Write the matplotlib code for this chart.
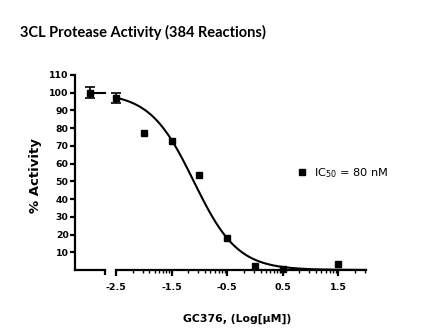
import numpy as np
import matplotlib
matplotlib.use('Agg')
import matplotlib.pyplot as plt

plt.rcParams['font.family'] = ['DejaVu Sans']
plt.rcParams['mathtext.fontset'] = 'dejavusans'
plt.rcParams['mathtext.default'] = 'regular'

# data
ctrl_activity = 100.0
ctrl_err = 3.0
log_conc = [-2.5, -2.0, -1.5, -1.0, -0.5, 0.0, 0.5, 1.5]
activity = [96.8, 77.3, 72.5, 53.5, 17.8, 2.0, 0.5, 3.5]
act_err = [2.8, 0, 0, 0, 0, 0, 0, 0]

# sigmoidal fit parameters
fit_top = 100.0
fit_bottom = 0.0
fit_logic50 = -1.1
fit_hill = 1.1

major_ticks = [-2.5, -1.5, -0.5, 0.5, 1.5]
y_ticks = [10, 20, 30, 40, 50, 60, 70, 80, 90, 100, 110]

fig = plt.figure(figsize=(4.29, 3.33), dpi=100)
H = 333.0
W = 429.0
bottom = 1 - 270 / H
height = (270 - 75) / H
ax_l = fig.add_axes([75 / W, bottom, 30 / W, height])
ax_r = fig.add_axes([116 / W, bottom, 250 / W, height])

lw = 1.6
for ax in (ax_l, ax_r):
    ax.set_ylim(0, 110)
    for s in ['top', 'right']:
        ax.spines[s].set_visible(False)
    ax.spines['bottom'].set_linewidth(lw)
    ax.spines['left'].set_linewidth(lw)
    ax.tick_params(width=lw, length=3.5, labelsize=6.7, pad=1.0)

# left segment: control
ax_l.set_xlim(0, 1)
ax_l.set_xticks([1])
ax_l.set_xticklabels([''])
ax_l.set_yticks(y_ticks)
ax_l.set_yticklabels([str(v) for v in y_ticks], fontweight='bold')
ax_l.plot([0.5, 1], [fit_top, fit_top], color='k', lw=1.5, clip_on=False)
ax_l.errorbar([0.5], [ctrl_activity], yerr=[ctrl_err], fmt='s', color='k',
              ms=5, capsize=3.5, elinewidth=1.2, capthick=1.2, clip_on=False)

# right segment: dose response
ax_r.spines['left'].set_visible(False)
ax_r.set_yticks([])
ax_r.set_xlim(-2.5, 2.0)
ax_r.set_xticks(major_ticks)
ax_r.set_xticklabels([str(v) for v in major_ticks], fontweight='bold', fontsize=6.8)
minor = []
for m in major_ticks:
    for k in range(2, 10):
        v = m + np.log10(k)
        if v <= 2.0:
            minor.append(v)
ax_r.set_xticks(minor, minor=True)
ax_r.tick_params(axis='x', which='minor', length=2, width=1.0)
ax_r.tick_params(axis='x', which='major', length=4, width=lw, pad=5.0)

xs = np.linspace(-2.5, 2.0, 300)
ys = fit_bottom + (fit_top - fit_bottom) / (1 + 10 ** ((xs - fit_logic50) * fit_hill))
ax_r.plot(xs, ys, color='k', lw=1.5, clip_on=False)

# error bars only where there is a spread
has_err = [i for i, e in enumerate(act_err) if e > 0]
ax_r.errorbar([log_conc[i] for i in has_err], [activity[i] for i in has_err],
              yerr=[act_err[i] for i in has_err], fmt='none', ecolor='k',
              capsize=3.5, elinewidth=1.2, capthick=1.2, clip_on=False, zorder=5)
ax_r.plot(log_conc, activity, 's', color='k', ms=5, clip_on=False, zorder=6)

ax_r.plot([], [], 's', color='k', ms=4, label=r'IC$_{50}$ = 80 nM')
ax_r.legend(loc='center left', bbox_to_anchor=(286 / W, 1 - 173 / H),
            bbox_transform=fig.transFigure, frameon=False, handlelength=1.0,
            handletextpad=0.6, fontsize=8.2)

fig.text(237 / W, 1 - 319 / H, 'GC376, (Log[\u00b5M])', ha='center', va='center',
         fontsize=7.8, fontweight='bold')
fig.text(35 / W, 1 - 176 / H, '% Activity', ha='center', va='center',
         rotation=90, fontsize=9.5, fontweight='bold')
fig.text(20 / W, 1 - 32 / H, '3CL Protease Activity (384 Reactions)',
         ha='left', va='center', fontsize=10.5, fontweight='bold',
         family=['Lato', 'DejaVu Sans'])

fig.savefig('out.png', dpi=100)
